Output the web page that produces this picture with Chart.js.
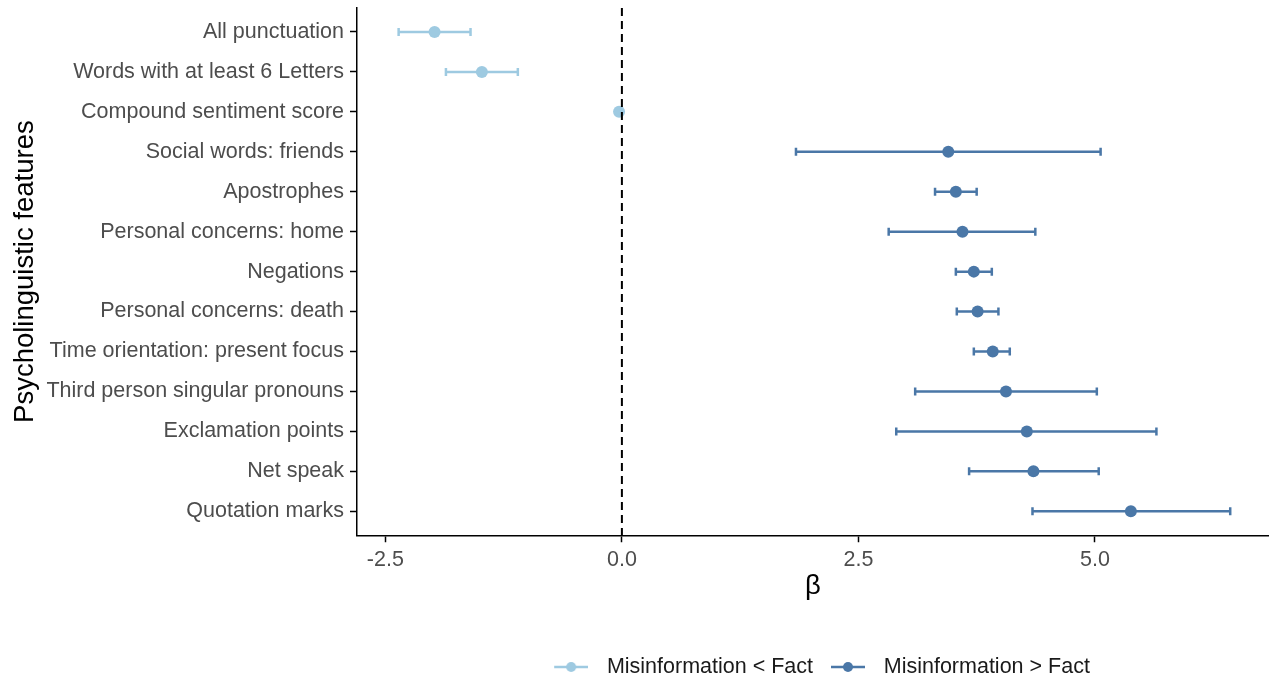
<!DOCTYPE html>
<html>
<head>
<meta charset="utf-8">
<script src="https://cdn.jsdelivr.net/npm/chart.js@4.4.0/dist/chart.umd.min.js"></script>
<style>
  html, body { margin: 0; padding: 0; background: #fff; }
  #wrap { width: 1269px; height: 680px; }
</style>
</head>
<body>
<div id="wrap"><canvas id="chart" width="1269" height="680"></canvas></div>
<script>
// Regression estimates per feature, top to bottom
const features = [
    'All punctuation',
    'Words with at least 6 Letters',
    'Compound sentiment score',
    'Social words: friends',
    'Apostrophes',
    'Personal concerns: home',
    'Negations',
    'Personal concerns: death',
    'Time orientation: present focus',
    'Third person singular pronouns',
    'Exclamation points',
    'Net speak',
    'Quotation marks'
];
const estimates = [-1.98, -1.48, -0.03, 3.45, 3.53, 3.60, 3.72, 3.76, 3.92, 4.06, 4.28, 4.35, 5.38];
const lowerCI   = [-2.36, -1.86, -0.05, 1.84, 3.31, 2.82, 3.53, 3.54, 3.72, 3.10, 2.90, 3.67, 4.34];
const upperCI   = [-1.60, -1.10, -0.01, 5.06, 3.75, 4.37, 3.91, 3.98, 4.10, 5.02, 5.65, 5.04, 6.43];
const direction = ['lt', 'lt', 'lt', 'gt', 'gt', 'gt', 'gt', 'gt', 'gt', 'gt', 'gt', 'gt', 'gt'];
const xTicks = [-2.5, 0, 2.5, 5];

const groupNames = { lt: 'Misinformation < Fact', gt: 'Misinformation > Fact' };
const groupColors = { lt: '#9ecae1', gt: '#4a77a7' };
const FONT = 'Liberation Sans, Arial, Helvetica, sans-serif';

const datasets = ['lt', 'gt'].map(g => ({
    label: groupNames[g],
    data: features
        .map((f, i) => ({ x: estimates[i], y: i, lo: lowerCI[i], hi: upperCI[i] }))
        .filter((d, i) => direction[i] === g),
    backgroundColor: groupColors[g],
    borderColor: groupColors[g],
    borderWidth: 0,
    pointRadius: 6,
    pointHoverRadius: 6,
    showLine: false
}));

// Whiskers with caps, drawn under the points
const errorBars = {
    id: 'errorBars',
    beforeDatasetsDraw(chart) {
        const { ctx, scales: { x, y } } = chart;
        ctx.save();
        ctx.lineWidth = 2.5;
        chart.data.datasets.forEach(ds => {
            ctx.strokeStyle = ds.borderColor;
            ds.data.forEach(d => {
                const yp = y.getPixelForValue(d.y);
                const x1 = x.getPixelForValue(d.lo);
                const x2 = x.getPixelForValue(d.hi);
                ctx.beginPath();
                ctx.moveTo(x1, yp); ctx.lineTo(x2, yp);
                ctx.moveTo(x1, yp - 4); ctx.lineTo(x1, yp + 4);
                ctx.moveTo(x2, yp - 4); ctx.lineTo(x2, yp + 4);
                ctx.stroke();
            });
        });
        ctx.restore();
    }
};

// Dashed reference line at beta = 0
const zeroLine = {
    id: 'zeroLine',
    afterDatasetsDraw(chart) {
        const { ctx, chartArea, scales: { x } } = chart;
        const xp = x.getPixelForValue(0);
        ctx.save();
        ctx.strokeStyle = '#000';
        ctx.lineWidth = 2;
        ctx.setLineDash([8, 5]);
        ctx.beginPath();
        ctx.moveTo(xp, chartArea.top);
        ctx.lineTo(xp, chartArea.bottom);
        ctx.stroke();
        ctx.restore();
    }
};

// legend key: short line with a dot, shifted right inside its box
function legendSymbol(color) {
    const c = document.createElement('canvas');
    c.width = 44; c.height = 12;
    const g = c.getContext('2d');
    g.strokeStyle = color;
    g.lineWidth = 2.5;
    g.beginPath(); g.moveTo(10, 6); g.lineTo(44, 6); g.stroke();
    g.fillStyle = color;
    g.beginPath(); g.arc(27, 6, 5, 0, Math.PI * 2); g.fill();
    return c;
}

const axisLine = { color: '#000', width: 1.5 };
const tickGrid = { drawOnChartArea: false, drawTicks: true, tickLength: 7, tickColor: '#000', tickWidth: 1.5 };

new Chart(document.getElementById('chart'), {
    type: 'scatter',
    data: { datasets },
    plugins: [errorBars, zeroLine],
    options: {
        responsive: false,
        animation: false,
        layout: { autoPadding: false, padding: { top: 8, bottom: -7.75, left: 0, right: 0 } },
        plugins: {
            tooltip: { enabled: false },
            legend: {
                position: 'bottom',
                fullSize: false,
                labels: {
                    usePointStyle: true,
                    pointStyleWidth: 60,
                    padding: 0,
                    color: '#1a1a1a',
                    font: { family: FONT, size: 21.5 },
                    generateLabels(chart) {
                        return Chart.defaults.plugins.legend.labels.generateLabels(chart).map(item => {
                            item.pointStyle = legendSymbol(chart.data.datasets[item.datasetIndex].borderColor);
                            return item;
                        });
                    }
                }
            }
        },
        scales: {
            x: {
                type: 'linear',
                min: -2.8,
                max: 6.84,
                border: axisLine,
                grid: tickGrid,
                ticks: {
                    color: '#4d4d4d',
                    font: { family: FONT, size: 21.5 },
                    padding: 5,
                    callback: v => v.toFixed(1)
                },
                afterBuildTicks: s => { s.ticks = xTicks.map(v => ({ value: v })); },
                afterFit: s => {
                    s.height = 121;
                    s.paddingLeft = 0;
                    s.paddingRight = 0;
                },
                title: {
                    display: true,
                    text: 'β',
                    color: '#000',
                    font: { family: FONT, size: 27.5 },
                    padding: { top: 0, bottom: 53 }
                }
            },
            y: {
                type: 'linear',
                min: -0.6,
                max: 12.6,
                reverse: true,
                border: axisLine,
                grid: tickGrid,
                ticks: {
                    color: '#4d4d4d',
                    font: { family: FONT, size: 21.5 },
                    padding: 6,
                    autoSkip: false,
                    callback: v => features[v] ?? ''
                },
                afterBuildTicks: s => { s.ticks = features.map((f, i) => ({ value: i })); },
                afterFit: s => {
                    s.width = 357;
                    s.paddingTop = 0;
                    s.paddingBottom = 0;
                },
                title: {
                    display: true,
                    text: 'Psycholinguistic features',
                    color: '#000',
                    font: { family: FONT, size: 27.5 },
                    padding: { top: 9, bottom: 0 }
                }
            }
        }
    }
});
</script>
</body>
</html>
